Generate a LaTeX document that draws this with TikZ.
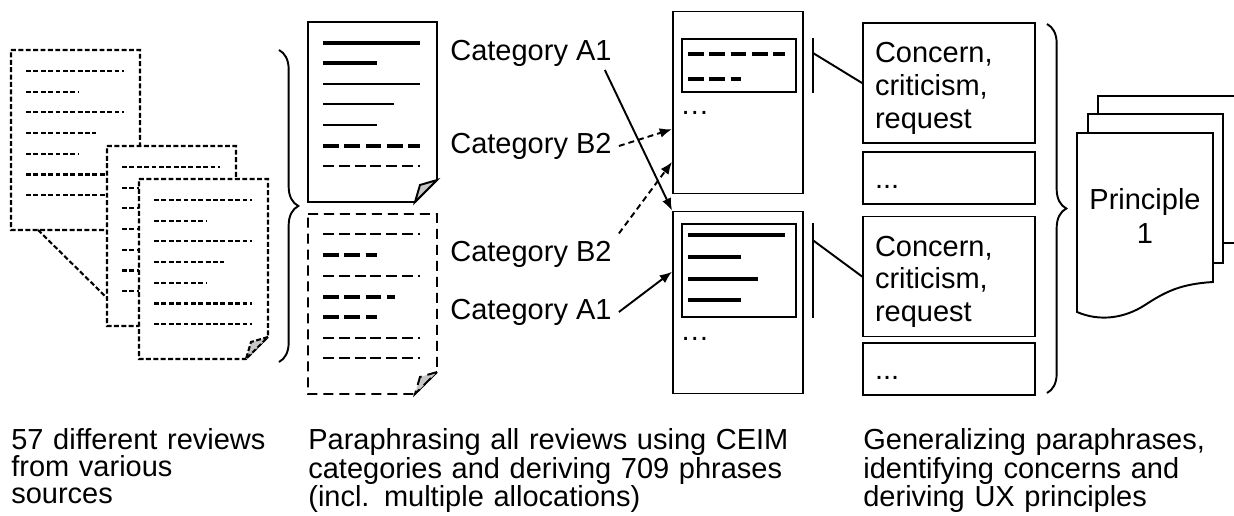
\documentclass[tikz,border=0pt]{standalone}
\usepackage{fontspec}
\setmainfont{Liberation Sans}
\usetikzlibrary{arrows.meta,positioning,decorations.pathreplacing}
\definecolor{foldgray}{gray}{0.78}

% page with a folded corner: style, left x, top y
\newcommand{\docpage}[3]{%
  \filldraw[#1, fill=white] (#2,#3) -- ++(129,0) -- ++(0,158) -- ++(-22,22) -- ++(-107,0) -- cycle;
  \filldraw[#1, fill=foldgray] (#2+129,#3+158) -- ++(-17,5) -- ++(-5,17) -- cycle;
}
% text lines of one review
\newcommand{\reviewlines}[2]{%
  \foreach \k/\len in {0/98,1/52,2/98,3/70,4/52,5/98,6/98}
    \draw[fineline] (#1+15,#2+21+20.7*\k) -- ++(\len,0);
}

\begin{document}
\begin{tikzpicture}[
  x=0.02cm, y=-0.02cm,
  every node/.style={font=\fontsize{16.5}{18.7}\selectfont},
  solidpage/.style={line width=1.1pt},
  revpage/.style={line width=1.2pt, dash pattern=on 2.8pt off 1.4pt},
  phrpage/.style={line width=1.1pt, dash pattern=on 5.7pt off 3.4pt},
  fineline/.style={line width=1.2pt, dash pattern=on 2.8pt off 1.4pt},
  thinline/.style={line width=0.95pt},
  thickline/.style={line width=2.8pt},
  thindash/.style={line width=0.95pt, dash pattern=on 6.2pt off 2.8pt},
  thickdash/.style={line width=2.8pt, dash pattern=on 9pt off 3.1pt},
  box/.style={draw, line width=1.1pt, inner sep=0pt},
  textbox/.style={draw, line width=1.1pt, minimum width=3.44cm, text width=2.96cm, inner xsep=0.24cm, inner ysep=0pt, align=left, execute at begin node=\rule{0pt}{17.6pt}},
  cat/.style={anchor=west, inner xsep=4pt, inner ysep=2pt},
  caption/.style={anchor=north west, inner sep=0pt, text width=9.8cm, align=left, font=\fontsize{16.5}{15.3}\selectfont},
  arr/.style={-{Latex[length=7pt,width=5.5pt]}, line width=1.1pt},
  dasharr/.style={arr, dash pattern=on 3.4pt off 2.3pt},
  brace/.style={decorate, decoration={brace, amplitude=11pt}, line width=1.1pt}
]
\useasboundingbox (0,0) rectangle (1234,516);

% reviews
\docpage{revpage}{11}{50}
\reviewlines{11}{50}
\draw[fineline] (38,230) -- (107,298);
\docpage{revpage}{107}{146}
\reviewlines{107}{146}
\docpage{revpage}{139}{179}
\reviewlines{139}{179}

\draw[brace] (279,50) -- (279,362);

% paraphrased reviews
\docpage{solidpage}{308}{22}
\draw[thickline] (323,43) -- (420,43);
\draw[thickline] (323,63) -- (377,63);
\draw[thinline] (323,84) -- (420,84);
\draw[thinline] (323,104) -- (394,104);
\draw[thinline] (323,125) -- (377,125);
\draw[thickdash] (323,146) -- (420,146);
\draw[thindash] (323,166) -- (420,166);

\docpage{phrpage}{308}{214}
\draw[thindash] (323,234) -- (420,234);
\draw[thickdash] (323,255) -- (377,255);
\draw[thindash] (323,276) -- (420,276);
\draw[thickdash] (323,297) -- (395,297);
\draw[thickdash] (323,317) -- (377,317);
\draw[thindash] (323,338) -- (420,338);
\draw[thindash] (323,358) -- (420,358);

% categories
\node[cat] (catAt) at (443,53) {Category A1};
\node[cat] (catBt) at (443,146) {Category B2};
\node[cat] (catBb) at (443,254) {Category B2};
\node[cat] (catAb) at (443,312) {Category A1};

\node[box, minimum width=2.6cm, minimum height=3.64cm] (C1) at (738,102.5) {};
\node[box, minimum width=2.28cm, minimum height=1.06cm] (inA) at (739,65.5) {};
\draw[thickdash] (688,54) -- (785,54);
\draw[thickdash] (688,79) -- (741,79);
\node[anchor=base west, inner sep=0pt] (dotsA) at (680,115) {…};

\node[box, minimum width=2.6cm, minimum height=3.64cm] (C2) at (738,302.5) {};
\node[box, minimum width=2.28cm, minimum height=1.86cm] (inB) at (739,270.5) {};
\draw[thickline] (688,235) -- (785,235);
\draw[thickline] (688,257) -- (741,257);
\draw[thickline] (688,279) -- (758,279);
\draw[thickline] (688,300) -- (741,300);
\node[anchor=base west, inner sep=0pt] (dotsB) at (680,341) {…};

\draw[arr] ([xshift=-8pt]catAt.south east) -- (C2.north west);
\draw[dasharr] (catBt.east) -- (C1.202);
\draw[dasharr] ([yshift=2pt]catBb.north east) -- (C1.222);
\draw[arr] (catAb.east) -- (C2.155);

% concerns
\node[textbox, minimum height=2.4cm] (concA) at (949,83) {Concern,\\ criticism,\\ request};
\node[textbox, minimum height=1.04cm, below=0.14cm of concA] (moreA) {\strut...};
\node[textbox, minimum height=2.4cm] (concB) at (949,276.5) {Concern,\\ criticism,\\ request};
\node[textbox, minimum height=1.04cm, below=0.1cm of concB] (moreB) {\strut...};

\draw[line width=1.1pt] ([xshift=9pt]inA.north east) -- coordinate[pos=0.27] (barA) ([xshift=9pt]inA.south east);
\draw[line width=1.1pt] (barA) -- (concA.west);
\draw[line width=1.1pt] ([xshift=9pt]inB.north east) -- coordinate[pos=0.18] (barB) ([xshift=9pt]inB.south east);
\draw[line width=1.1pt] (barB) -- (concB.west);

\draw[brace] (1047,24) -- (1047,393);

% principles
\begin{scope}
\clip (0,0) rectangle (1234,516);
\filldraw[solidpage, fill=white] (1098,96) rectangle (1260,243);
\filldraw[solidpage, fill=white] (1088,114) rectangle (1223,263);
\filldraw[solidpage, fill=white] (1077,133) -- (1213,133) -- (1213,282)
  .. controls (1180,284) and (1165,292) .. (1145,305)
  .. controls (1125,318) and (1100,322) .. (1077,312) -- cycle;
\end{scope}
\node[align=center, inner sep=0pt, font=\fontsize{16.5}{19.3}\selectfont] (prin) at (1145,216) {Principle\\1};

% steps
\node[caption] (capA) at (11,428) {57 different reviews\\from various\\sources};
\node[caption] (capB) at (308,428) {Paraphrasing all reviews using CEIM\\categories and deriving 709 phrases\\(incl. multiple allocations)};
\node[caption] (capC) at (863,428) {Generalizing paraphrases,\\identifying concerns and\\deriving UX principles};

\end{tikzpicture}
\end{document}
